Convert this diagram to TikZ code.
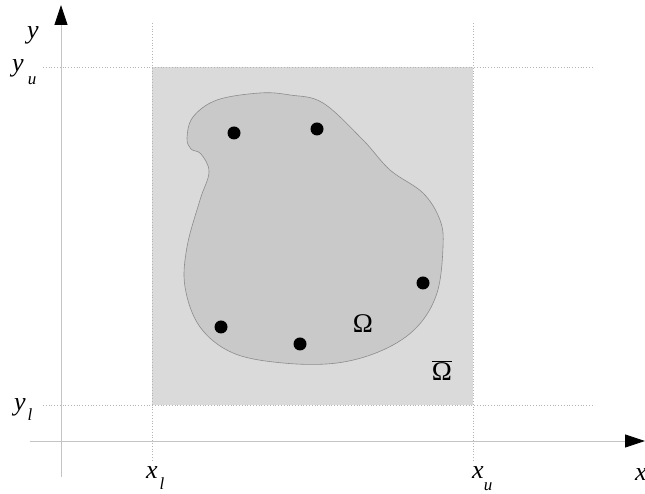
\documentclass[tikz,border=0pt]{standalone}
\usepackage{fontspec}
\setmainfont{Liberation Serif}
\usepackage{tikz}
\usetikzlibrary{arrows.meta}
\definecolor{axisline}{HTML}{C4C4C4}
\definecolor{guide}{HTML}{B4B4B4}
\definecolor{box}{HTML}{DADADA}
\definecolor{blob}{HTML}{C9C9C9}
\definecolor{blobline}{HTML}{8C8C8C}
\tikzset{
  axis/.style    = {draw=axisline, line width=0.8pt, -{Triangle[length=20pt,width=13pt,color=black]}},
  guideline/.style = {draw=guide, line width=0.8pt, dotted},
  pt/.style      = {fill=black},
  letter/.style  = {font=\fontsize{26}{28}\selectfont\itshape, inner sep=0pt},
  sub/.style     = {font=\fontsize{17}{19}\selectfont\itshape, inner sep=0pt},
  greek/.style   = {font=\fontsize{27}{29}\selectfont, inner sep=0pt},
}
\begin{document}
\begin{tikzpicture}[x=1pt,y=1pt]
\path[use as bounding box] (0,0) rectangle (645,494);
\clip (0,0) rectangle (645,494);

% ---- the box and the domain ---------------------------------------------
\fill[box] (152,89) rectangle (473,427);
\filldraw[fill=blob, draw=blobline, line width=0.6pt] plot[smooth cycle, tension=0.6] coordinates {
  (217,394) (260,401) (290,399) (323,391) (363,354) (390,324) (423,301)
  (440,274) (443,247) (437,201) (417,167) (383,144) (337,131) (283,131)
  (233,141) (200,167) (185,207) (187,247) (200,294) (209,322) (201,340)
  (191,345) (187,356) (193,377)};

% ---- guides -------------------------------------------------------------
\draw[guideline] (43,427) -- (592,427);
\draw[guideline] (43,89) -- (593,89);
\draw[guideline] (152,471) -- (152,34);
\draw[guideline] (473,471) -- (473,34);

% ---- axes ---------------------------------------------------------------
\draw[axis] (61,17) -- (61,489);
\draw[axis] (30,53) -- (645,53);

% ---- points -------------------------------------------------------------
\foreach \px/\py in {234/361, 317/365, 423/211, 221/167, 300/150}{
  \fill[pt] (\px,\py) circle (6.5);
}

\node[greek] (omega) at (363,170) {Ω};
\node[greek] (omegabar) at (442,123) {$\overline{\hbox{\fontsize{27}{29}\selectfont Ω}}$};

% ---- labels -------------------------------------------------------------
\node[letter] (ylab) at (33,459) {y};
\node[letter] (yu) at (18,426) {y};
\node[sub] (yusub) at (32,413) {u};
\node[letter] (yl) at (20,87) {y};
\node[sub] (ylsub) at (30,79) {l};
\node[letter] (xl) at (152,21) {x};
\node[sub] (xlsub) at (162,10) {l};
\node[letter] (xu) at (478,21) {x};
\node[sub] (xusub) at (488,7) {u};
\node[letter] (xlab) at (641,19) {x};

\end{tikzpicture}
\end{document}
